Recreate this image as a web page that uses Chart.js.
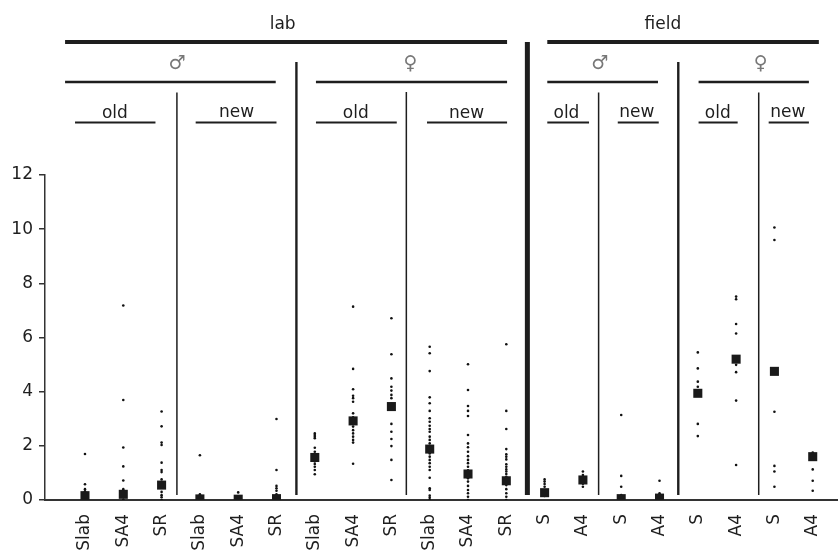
<!DOCTYPE html>
<html>
<head>
<meta charset="utf-8">
<script src="https://cdn.jsdelivr.net/npm/chart.js@4/dist/chart.umd.min.js"></script>
<style>
  html, body { margin: 0; padding: 0; background: #fff; }
  #wrap { width: 838px; height: 555px; }
</style>
</head>
<body>
<div id="wrap"><canvas id="c" width="838" height="555"></canvas></div>
<script>
/* ===== Datos ===== */
const categories = ['Slab','SA4','SR','Slab','SA4','SR','Slab','SA4','SR','Slab','SA4','SR',
                    'S','A4','S','A4','S','A4','S','A4'];
const yTicks = [0, 2, 4, 6, 8, 10, 12];

// valores individuales por categoría
const labMaleOldSlab = [1.70, 0.58, 0.40, 0.32, 0.2, 0.1, 0, 0, 0];
const labMaleOldSA4  = [7.18, 3.69, 1.94, 1.24, 0.72, 0.40, 0.3, 0.1, 0, 0];
const labMaleOldSR   = [3.27, 2.72, 2.12, 2.03, 1.38, 1.11, 1.03, 0.76, 0.6, 0.45, 0.3, 0.18, 0.1, 0];
const labMaleNewSlab = [1.65, 0.21, 0.1, 0, 0];
const labMaleNewSA4  = [0.28, 0.12, 0, 0];
const labMaleNewSR   = [2.99, 1.11, 0.52, 0.43, 0.34, 0.21, 0.1, 0, 0];
const labFemOldSlab  = [2.46, 2.40, 2.34, 2.28, 1.93, 1.78, 1.65, 1.50, 1.42, 1.33, 1.23, 1.11, 0.95];
const labFemOldSA4   = [7.14, 4.84, 4.09, 3.85, 3.76, 3.63, 3.20, 3.05, 2.71, 2.58, 2.46, 2.34, 2.22, 2.12, 1.34];
const labFemOldSR    = [6.71, 5.38, 4.49, 4.18, 4.04, 3.88, 3.76, 3.55, 2.81, 2.52, 2.25, 1.99, 1.48, 0.74];
const labFemNewSlab  = [5.66, 5.42, 4.76, 3.79, 3.57, 3.29, 3.02, 2.89, 2.74, 2.62, 2.52, 2.34, 2.22, 2.09,
                        1.98, 1.72, 1.60, 1.48, 1.36, 1.23, 1.11, 0.82, 0.43, 0.37, 0.16, 0.08, 0];
const labFemNewSA4   = [5.01, 4.06, 3.47, 3.29, 3.10, 2.40, 2.09, 1.95, 1.78, 1.62, 1.48, 1.36, 1.23, 1.1,
                        0.80, 0.68, 0.52, 0.37, 0.25, 0.12, 0];
const labFemNewSR    = [5.75, 3.29, 2.62, 1.88, 1.69, 1.60, 1.50, 1.32, 1.23, 1.13, 1.05, 0.96, 0.86, 0.62,
                        0.55, 0.40, 0.25, 0.12, 0];
const fieldMaleOldS  = [0.76, 0.68, 0.59, 0.49, 0.3, 0.15];
const fieldMaleOldA4 = [1.05, 0.92, 0.6, 0.49];
const fieldMaleNewS  = [3.14, 0.89, 0.49, 0.18, 0];
const fieldMaleNewA4 = [0.71, 0.25, 0];
const fieldFemOldS   = [5.45, 4.86, 4.37, 4.18, 2.81, 2.36];
const fieldFemOldA4  = [7.51, 7.41, 6.50, 6.15, 4.99, 4.72, 3.67, 1.29];
const fieldFemNewS   = [10.06, 9.60, 3.26, 1.26, 1.05, 0.49];
const fieldFemNewA4  = [1.75, 1.13, 0.71, 0.34];

const groups = [labMaleOldSlab, labMaleOldSA4, labMaleOldSR, labMaleNewSlab, labMaleNewSA4, labMaleNewSR,
                labFemOldSlab, labFemOldSA4, labFemOldSR, labFemNewSlab, labFemNewSA4, labFemNewSR,
                fieldMaleOldS, fieldMaleOldA4, fieldMaleNewS, fieldMaleNewA4,
                fieldFemOldS, fieldFemOldA4, fieldFemNewS, fieldFemNewA4];

// medias (cuadros)
const means = [0.16, 0.21, 0.55, 0.04, 0.03, 0.05, 1.57, 2.92, 3.45, 1.88, 0.96, 0.71,
               0.27, 0.74, 0.05, 0.07, 3.94, 5.20, 4.75, 1.60];

/* ===== Encabezado (posiciones en unidades del eje x) ===== */
const FONT = '"DejaVu Sans", sans-serif';
const INK = '#1e1e1e';
const headRules = [ // [desde, hasta, y, grosor]
  [-0.52, 11.02, 42, 4], [12.07, 19.16, 42, 4],
  [-0.52, 4.98, 82, 2.4], [6.03, 11.02, 82, 2.4], [12.07, 14.96, 82, 2.4], [16.02, 18.90, 82, 2.4],
  [-0.26, 1.84, 122.5, 1.8], [2.89, 5.0, 122.5, 1.8], [6.03, 8.14, 122.5, 1.8], [8.93, 11.02, 122.5, 1.8],
  [12.07, 13.16, 122.5, 1.8], [13.91, 14.98, 122.5, 1.8], [16.02, 17.04, 122.5, 1.8], [17.85, 18.90, 122.5, 1.8]
];
const dividers = [ // [x, y superior, grosor]
  [2.40, 92.5, 1.5], [8.39, 92, 1.5], [13.41, 92.5, 1.5], [17.59, 92.5, 1.5],
  [5.52, 62, 2.4], [15.49, 62, 2.4], [11.55, 42, 5]
];
const headTexts = [ // [texto, x, y, tamaño]
  ['lab', 5.16, 28.5, 17], ['field', 15.09, 28.5, 17],
  ['old', 0.78, 118, 17], ['new', 3.96, 117, 17], ['old', 7.07, 118, 17], ['new', 9.96, 118, 17],
  ['old', 12.57, 118, 17], ['new', 14.41, 117, 17], ['old', 16.52, 118, 17], ['new', 18.35, 117, 17]
];
const sexSymbols = [['♂', 2.40], ['♀', 8.5], ['♂', 13.44], ['♀', 17.64]];

const headerPlugin = {
  id: 'header',
  afterDraw(chart){
    const {ctx, scales:{x, y}} = chart;
    const base = y.getPixelForValue(0) - 5;
    ctx.save();
    ctx.strokeStyle = INK;
    ctx.lineCap = 'butt';
    headRules.forEach(([a, b, py, w])=>{
      ctx.lineWidth = w;
      ctx.beginPath();
      ctx.moveTo(x.getPixelForValue(a), py);
      ctx.lineTo(x.getPixelForValue(b), py);
      ctx.stroke();
    });
    dividers.forEach(([u, top, w])=>{
      const px = x.getPixelForValue(u);
      ctx.lineWidth = w;
      ctx.beginPath();
      ctx.moveTo(px, top);
      ctx.lineTo(px, base);
      ctx.stroke();
    });
    ctx.fillStyle = INK;
    ctx.textAlign = 'center';
    ctx.textBaseline = 'alphabetic';
    headTexts.forEach(([t, u, py, s])=>{
      ctx.font = `${s}px ${FONT}`;
      ctx.fillText(t, x.getPixelForValue(u), py);
    });
    ctx.fillStyle = '#777';
    ctx.textBaseline = 'middle';
    ctx.font = `19px ${FONT}`;
    sexSymbols.forEach(([t, u])=>{
      ctx.fillText(t, x.getPixelForValue(u), 64);
    });
    ctx.restore();
  }
};

/* ===== Gráfica ===== */
const dots = [];
groups.forEach((vals, i)=> vals.forEach(v => dots.push({x: i, y: v})));
const meanPts = means.map((v, i)=>({x: i, y: v}));

new Chart(document.getElementById('c'), {
  type: 'scatter',
  data: {
    datasets: [
      { label: 'medias', data: meanPts, pointStyle: 'rect', pointRadius: 6.4,
        backgroundColor: '#1a1a1a', borderWidth: 0 },
      { label: 'valores', data: dots, pointStyle: 'circle', pointRadius: 1.3,
        backgroundColor: '#111', borderWidth: 0 }
    ]
  },
  options: {
    responsive: false,
    animation: false,
    events: [],
    layout: { autoPadding: false, padding: { top: 175, left: 0, right: 0, bottom: 0 } },
    plugins: { legend: { display: false }, tooltip: { enabled: false } },
    scales: {
      x: {
        type: 'linear', min: -1.044, max: 19.66,
        afterBuildTicks: s => { s.ticks = categories.map((_, i)=>({value: i})); },
        afterFit: s => { s.height = 55; s.paddingLeft = 0; s.paddingRight = 0; },
        grid: { display: false, drawTicks: false },
        border: { display: true, color: '#333', width: 2 },
        ticks: {
          autoSkip: false, minRotation: 90, maxRotation: 90, padding: 14,
          color: INK, font: { family: FONT, size: 17 },
          callback: v => categories[v]
        }
      },
      y: {
        min: 0, max: 12,
        afterBuildTicks: s => { s.ticks = yTicks.map(v=>({value: v})); },
        afterFit: s => { s.width = 45; },
        grid: { drawOnChartArea: false, drawTicks: true, tickLength: 6, color: '#333', lineWidth: 1.5 },
        border: { display: true, color: '#333', width: 1.5 },
        ticks: { padding: 6, color: INK, font: { family: FONT, size: 17 } }
      }
    }
  },
  plugins: [headerPlugin]
});
</script>
</body>
</html>
